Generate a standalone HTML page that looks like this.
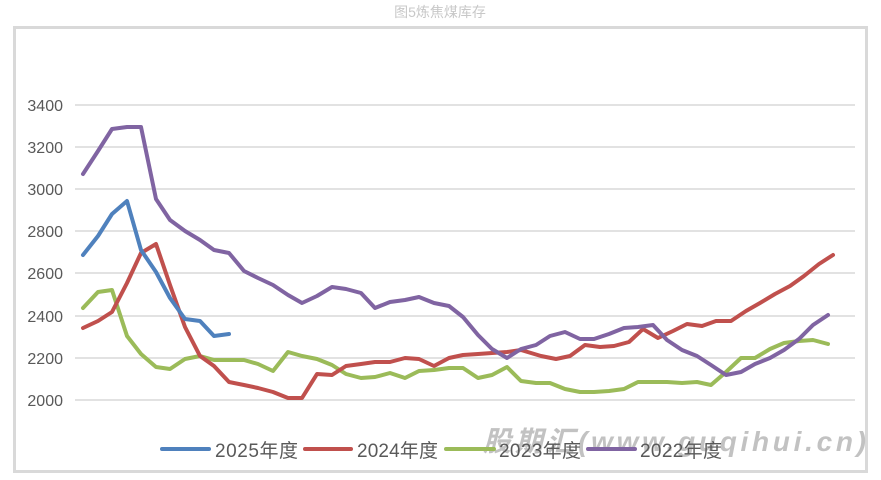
<!DOCTYPE html>
<html><head><meta charset="utf-8"><style>
body{margin:0;background:#fff;width:881px;height:475px;overflow:hidden;font-family:"Liberation Sans","Noto Sans CJK SC",sans-serif}
</style></head><body>
<svg width="881" height="475" xmlns="http://www.w3.org/2000/svg" font-family="Liberation Sans, Noto Sans CJK SC, sans-serif">
<text x="440" y="17" text-anchor="middle" font-size="14" fill="#c8c8c8">图5炼焦煤库存</text>
<rect x="14.5" y="27.5" width="852" height="444" fill="#fff" stroke="#d9d9d9" stroke-width="3"/>
<g stroke="#d9d9d9" stroke-width="1.5">
<line x1="75" x2="855" y1="105" y2="105"/><line x1="75" x2="855" y1="147" y2="147"/>
<line x1="75" x2="855" y1="189" y2="189"/><line x1="75" x2="855" y1="231" y2="231"/>
<line x1="75" x2="855" y1="273" y2="273"/><line x1="75" x2="855" y1="316" y2="316"/>
<line x1="75" x2="855" y1="358" y2="358"/><line x1="75" x2="855" y1="400" y2="400"/>
</g>
<g font-size="16" fill="#595959" text-anchor="end">
<text x="63" y="111">3400</text><text x="63" y="153">3200</text><text x="63" y="195">3000</text>
<text x="63" y="237">2800</text><text x="63" y="279">2600</text><text x="63" y="322">2400</text>
<text x="63" y="364">2200</text><text x="63" y="406">2000</text>
</g>
<g fill="none" stroke-width="4" stroke-linejoin="round" stroke-linecap="round">
<polyline stroke="#9bbb59" points="83,308 98,292 112,290 127,336 141,354 156,367 170,369 185,359 200,356 214,360 229,360 244,360 258,364 273,371 288,352 302,356 317,359 332,365 346,374 361,378 375,377 390,373 405,378 419,371 434,370 449,368 463,368 478,378 492,375 507,367 521,381 536,383 550,383 565,389 580,392 594,392 609,391 624,389 638,382 653,382 667,382 682,383 697,382 711,385 726,372 741,358 755,358 770,349 784,343 799,341 813,340 828,344"/>
<polyline stroke="#c0504d" points="83,328 98,321 112,312 127,283 141,253 156,244 170,285 185,327 200,356 214,366 229,382 244,385 258,388 273,392 288,398 302,398 317,374 332,375 346,366 361,364 375,362 390,362 405,358 419,359 434,366 449,358 463,355 478,354 492,353 507,352 521,350 541,356 556,359 570,356 585,345 600,347 614,346 629,342 643,329 658,338 673,331 687,324 702,326 716,321 731,321 746,311 760,303 775,294 790,286 804,276 819,264 833,255"/>
<polyline stroke="#8064a2" points="83,174 98,151 112,129 127,127 141,127 156,199 170,220 185,231 200,240 214,250 229,253 244,271 258,278 273,285 288,295 302,303 317,296 332,287 346,289 361,293 375,308 390,302 405,300 419,297 434,303 449,306 463,317 478,335 492,349 507,358 521,349 536,345 550,336 565,332 580,339 594,339 609,334 624,328 638,327 653,325 667,340 682,350 697,356 711,365 726,375 741,372 755,364 770,358 784,350 799,339 813,325 828,315"/>
<polyline stroke="#4f81bd" points="83,255 98,236 112,214 127,201 141,250 156,272 170,298 185,319 200,321 214,336 229,334"/>
</g>
<text x="483" y="451" font-size="28" font-weight="bold" font-style="italic" fill="#b4b4b4" opacity="0.8" textLength="383">股期汇(www.guqihui.cn)</text>
<g stroke-width="4" stroke-linecap="round">
<line x1="162" y1="449" x2="209" y2="449" stroke="#4f81bd"/>
<line x1="305" y1="449" x2="351" y2="449" stroke="#c0504d"/>
<line x1="446" y1="449" x2="494" y2="449" stroke="#9bbb59"/>
<line x1="588" y1="449" x2="635" y2="449" stroke="#8064a2"/>
</g>
<g font-size="19" fill="#595959">
<text x="215" y="457" textLength="83">2025年度</text><text x="357" y="457" textLength="81">2024年度</text>
<text x="499" y="457" textLength="82">2023年度</text><text x="640" y="457" textLength="82">2022年度</text>
</g>
</svg>
</body></html>
